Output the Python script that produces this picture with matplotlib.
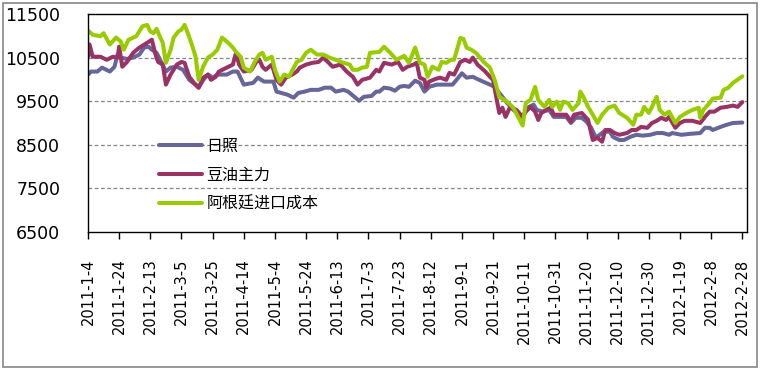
import numpy as np
import pandas as pd
import matplotlib
matplotlib.use('Agg')
import matplotlib.pyplot as plt
import matplotlib.dates as mdates
from matplotlib.patches import Rectangle

plt.rcParams['font.family'] = ['DejaVu Sans', 'Noto Sans CJK SC']

# 日照
rz_dates = ['2011-01-04', '2011-01-06', '2011-01-10', '2011-01-13', '2011-01-18', '2011-01-21',
            '2011-01-23', '2011-01-25', '2011-01-29', '2011-02-02', '2011-02-06', '2011-02-09',
            '2011-02-12', '2011-02-14', '2011-02-17', '2011-02-20', '2011-02-23', '2011-02-26',
            '2011-03-02', '2011-03-06', '2011-03-10', '2011-03-14', '2011-03-16', '2011-03-19',
            '2011-03-22', '2011-03-25', '2011-03-28', '2011-04-03', '2011-04-07', '2011-04-10',
            '2011-04-14', '2011-04-20', '2011-04-23', '2011-04-27', '2011-05-03', '2011-05-05',
            '2011-05-08', '2011-05-12', '2011-05-16', '2011-05-19', '2011-05-23', '2011-05-27',
            '2011-06-01', '2011-06-05', '2011-06-09', '2011-06-12', '2011-06-17', '2011-06-20',
            '2011-06-24', '2011-06-27', '2011-06-30', '2011-07-05', '2011-07-08', '2011-07-10',
            '2011-07-13', '2011-07-17', '2011-07-20', '2011-07-23', '2011-07-26', '2011-07-29',
            '2011-08-02', '2011-08-05', '2011-08-08', '2011-08-11', '2011-08-16', '2011-08-22',
            '2011-08-26', '2011-09-01', '2011-09-04', '2011-09-08', '2011-09-12', '2011-09-19',
            '2011-09-22', '2011-09-25', '2011-09-27', '2011-09-30', '2011-10-04', '2011-10-10',
            '2011-10-13', '2011-10-17', '2011-10-19', '2011-10-23', '2011-10-27', '2011-10-30',
            '2011-11-04', '2011-11-07', '2011-11-10', '2011-11-13', '2011-11-17', '2011-11-20',
            '2011-11-23', '2011-11-26', '2011-12-01', '2011-12-05', '2011-12-07', '2011-12-11',
            '2011-12-14', '2011-12-18', '2011-12-22', '2011-12-26', '2011-12-31', '2012-01-04',
            '2012-01-08', '2012-01-12', '2012-01-14', '2012-01-20', '2012-01-25', '2012-02-01',
            '2012-02-04', '2012-02-07', '2012-02-09', '2012-02-14', '2012-02-18', '2012-02-22',
            '2012-02-28']
rz_vals = [10110, 10180, 10180, 10270, 10180, 10290,
           10570, 10500, 10470, 10500, 10570, 10730,
           10750, 10680, 10610, 10400, 10180, 10270,
           10290, 10220, 9990, 9880, 9810, 9990,
           10110, 10040, 10110, 10110, 10180, 10180,
           9880, 9920, 10040, 9950, 9950, 9720,
           9690, 9650, 9580, 9690, 9720, 9760,
           9760, 9810, 9810, 9720, 9760, 9720,
           9600, 9510, 9600, 9620, 9720, 9720,
           9810, 9790, 9740, 9830, 9850, 9830,
           9970, 9920, 9720, 9830, 9880, 9880,
           9880, 10140, 10040, 10060, 9990, 9880,
           9830, 9690, 9600, 9460, 9300, 9140,
           9350, 9420, 9300, 9260, 9300, 9140,
           9140, 9140, 9000, 9120, 9120, 9030,
           8890, 8660, 8800, 8800, 8680, 8610,
           8610, 8680, 8730, 8710, 8730, 8770,
           8770, 8730, 8770, 8730, 8750, 8770,
           8890, 8890, 8840, 8910, 8960, 9000,
           9010]

# 豆油主力
dy_dates = ['2011-01-04', '2011-01-05', '2011-01-07', '2011-01-12', '2011-01-16', '2011-01-20',
            '2011-01-23', '2011-01-24', '2011-01-26', '2011-01-29', '2011-02-02', '2011-02-06',
            '2011-02-11', '2011-02-14', '2011-02-16', '2011-02-18', '2011-02-21', '2011-02-23',
            '2011-02-26', '2011-03-02', '2011-03-05', '2011-03-07', '2011-03-10', '2011-03-13',
            '2011-03-16', '2011-03-19', '2011-03-22', '2011-03-24', '2011-03-27', '2011-03-29',
            '2011-04-03', '2011-04-07', '2011-04-09', '2011-04-11', '2011-04-14', '2011-04-19',
            '2011-04-22', '2011-04-24', '2011-04-26', '2011-04-28', '2011-05-02', '2011-05-05',
            '2011-05-08', '2011-05-11', '2011-05-15', '2011-05-18', '2011-05-20', '2011-05-24',
            '2011-05-28', '2011-06-01', '2011-06-04', '2011-06-07', '2011-06-10', '2011-06-15',
            '2011-06-19', '2011-06-23', '2011-06-26', '2011-06-29', '2011-07-04', '2011-07-08',
            '2011-07-10', '2011-07-13', '2011-07-18', '2011-07-22', '2011-07-25', '2011-07-28',
            '2011-08-01', '2011-08-03', '2011-08-05', '2011-08-08', '2011-08-09', '2011-08-11',
            '2011-08-15', '2011-08-18', '2011-08-22', '2011-08-24', '2011-08-27', '2011-08-31',
            '2011-09-03', '2011-09-06', '2011-09-08', '2011-09-11', '2011-09-16', '2011-09-19',
            '2011-09-21', '2011-09-23', '2011-09-25', '2011-09-27', '2011-09-29', '2011-10-02',
            '2011-10-06', '2011-10-10', '2011-10-12', '2011-10-15', '2011-10-18', '2011-10-20',
            '2011-10-22', '2011-10-25', '2011-10-28', '2011-10-30', '2011-11-04', '2011-11-07',
            '2011-11-10', '2011-11-12', '2011-11-17', '2011-11-21', '2011-11-24', '2011-11-27',
            '2011-11-30', '2011-12-02', '2011-12-05', '2011-12-08', '2011-12-11', '2011-12-16',
            '2011-12-19', '2011-12-22', '2011-12-25', '2011-12-29', '2012-01-01', '2012-01-04',
            '2012-01-07', '2012-01-10', '2012-01-12', '2012-01-16', '2012-01-19', '2012-01-22',
            '2012-01-27', '2012-02-01', '2012-02-04', '2012-02-07', '2012-02-10', '2012-02-14',
            '2012-02-18', '2012-02-22', '2012-02-25', '2012-02-28']
dy_vals = [10520, 10800, 10520, 10520, 10450, 10520,
           10500, 10750, 10290, 10400, 10610, 10730,
           10840, 10910, 10610, 10400, 10340, 9880,
           10110, 10340, 10400, 10380, 10060, 9920,
           9810, 10040, 10110, 9990, 10060, 10180,
           10270, 10340, 10610, 10340, 10180, 10220,
           10400, 10450, 10290, 10220, 10340, 9990,
           9880, 10040, 10110, 10180, 10270, 10340,
           10380, 10400, 10500, 10400, 10290, 10340,
           10180, 10060, 9880, 9990, 10040, 10220,
           10180, 10380, 10340, 10400, 10220, 10290,
           10340, 10380, 10040, 9990, 9810, 9950,
           10010, 10040, 9990, 10150, 10110, 10400,
           10450, 10400, 10500, 10340, 10180, 10060,
           9990, 9600, 9230, 9350, 9140, 9370,
           9300, 9140, 9260, 9370, 9260, 9070,
           9230, 9300, 9350, 9190, 9190, 9190,
           9030, 9190, 9230, 9070, 8610, 8660,
           8570, 8840, 8840, 8770, 8730, 8770,
           8840, 8840, 8910, 8890, 9000, 9050,
           9120, 9070, 9140, 8890, 9000, 9050,
           9050, 9000, 9140, 9260, 9260, 9350,
           9370, 9400, 9370, 9480]

# 阿根廷进口成本
ag_dates = ['2011-01-04', '2011-01-07', '2011-01-12', '2011-01-14', '2011-01-18', '2011-01-22',
            '2011-01-25', '2011-01-27', '2011-01-30', '2011-02-04', '2011-02-08', '2011-02-11',
            '2011-02-13', '2011-02-15', '2011-02-17', '2011-02-19', '2011-02-21', '2011-02-23',
            '2011-02-26', '2011-02-28', '2011-03-03', '2011-03-05', '2011-03-07', '2011-03-09',
            '2011-03-12', '2011-03-14', '2011-03-16', '2011-03-19', '2011-03-22', '2011-03-25',
            '2011-03-28', '2011-03-31', '2011-04-04', '2011-04-07', '2011-04-09', '2011-04-12',
            '2011-04-14', '2011-04-18', '2011-04-21', '2011-04-24', '2011-04-26', '2011-04-28',
            '2011-05-02', '2011-05-04', '2011-05-07', '2011-05-10', '2011-05-13', '2011-05-18',
            '2011-05-21', '2011-05-24', '2011-05-27', '2011-05-31', '2011-06-04', '2011-06-08',
            '2011-06-12', '2011-06-17', '2011-06-21', '2011-06-23', '2011-06-26', '2011-06-29',
            '2011-07-02', '2011-07-04', '2011-07-10', '2011-07-13', '2011-07-17', '2011-07-21',
            '2011-07-26', '2011-07-29', '2011-08-02', '2011-08-05', '2011-08-08', '2011-08-10',
            '2011-08-13', '2011-08-17', '2011-08-19', '2011-08-22', '2011-08-25', '2011-08-27',
            '2011-08-31', '2011-09-02', '2011-09-04', '2011-09-07', '2011-09-10', '2011-09-15',
            '2011-09-19', '2011-09-22', '2011-09-25', '2011-09-30', '2011-10-04', '2011-10-10',
            '2011-10-12', '2011-10-15', '2011-10-18', '2011-10-20', '2011-10-24', '2011-10-27',
            '2011-10-29', '2011-11-01', '2011-11-03', '2011-11-05', '2011-11-08', '2011-11-11',
            '2011-11-15', '2011-11-16', '2011-11-18', '2011-11-21', '2011-11-24', '2011-11-27',
            '2011-11-30', '2011-12-04', '2011-12-08', '2011-12-11', '2011-12-16', '2011-12-20',
            '2011-12-22', '2011-12-25', '2011-12-27', '2011-12-30', '2012-01-01', '2012-01-04',
            '2012-01-06', '2012-01-09', '2012-01-12', '2012-01-16', '2012-01-19', '2012-01-23',
            '2012-01-27', '2012-01-31', '2012-02-01', '2012-02-03', '2012-02-07', '2012-02-09',
            '2012-02-14', '2012-02-16', '2012-02-19', '2012-02-22', '2012-02-28']
ag_vals = [11120, 11025, 10990, 11060, 10800, 10960,
           10870, 10680, 10910, 10990, 11220, 11250,
           11100, 11060, 11160, 10990, 10840, 10380,
           10680, 10960, 11100, 11140, 11250, 11070,
           10760, 10530, 9990, 10300, 10500, 10570,
           10680, 10960, 10840, 10730, 10630, 10520,
           10270, 10180, 10400, 10570, 10610, 10450,
           10520, 10220, 9950, 10110, 10060, 10400,
           10450, 10610, 10680, 10570, 10570, 10500,
           10450, 10380, 10340, 10220, 10220, 10270,
           10290, 10610, 10630, 10750, 10610, 10450,
           10540, 10380, 10730, 10380, 10340, 10060,
           10290, 10220, 10400, 10380, 10450, 10450,
           10950, 10930, 10730, 10680, 10610, 10400,
           10270, 9990, 9600, 9490, 9350, 8940,
           9460, 9530, 9830, 9530, 9370, 9530,
           9370, 9490, 9300, 9490, 9460, 9300,
           9460, 9720, 9600, 9370, 9190, 9000,
           9190, 9350, 9400, 9230, 9120, 8960,
           9190, 9190, 9370, 9230, 9370, 9600,
           9300, 9190, 9260, 9000, 9140, 9230,
           9300, 9350, 9120, 9300, 9460, 9560,
           9580, 9760, 9810, 9920, 10070]

series_names = ['日照', '豆油主力', '阿根廷进口成本']
series_colors = ['#666699', '#993366', '#99CC00']

tick_start = pd.Timestamp('2011-01-04')
tick_end = pd.Timestamp('2012-02-28')

fig = plt.figure(figsize=(7.6, 3.7), dpi=100)
fig.patches.append(Rectangle((3 / 760, 3 / 370), 754 / 760, 364 / 370, transform=fig.transFigure,
                             fill=False, edgecolor='#868686', linewidth=1.2))
ax = fig.add_axes([88 / 760, 138 / 370, 659 / 760, 218 / 370])

for dates, vals, name, color in zip([rz_dates, dy_dates, ag_dates], [rz_vals, dy_vals, ag_vals],
                                    series_names, series_colors):
    ax.plot(pd.to_datetime(dates), vals, color=color, linewidth=2.9, label=name,
            solid_joinstyle='round', solid_capstyle='round')

ax.set_ylim(6500, 11500)
ax.set_yticks(np.arange(6500, 11501, 1000))
ax.set_xlim(tick_start, pd.Timestamp('2012-03-02'))
ticks = pd.date_range(tick_start, tick_end, freq='20D')
ax.set_xticks(ticks)
ax.set_xticklabels([f'{d.year}-{d.month}-{d.day}' for d in ticks], rotation=90, fontsize=10.5)

for v in [7500, 8500, 9500, 10500]:
    ax.axhline(v, color='#868686', linestyle=(0, (3, 2)), linewidth=0.9, zorder=0)

for s in ax.spines.values():
    s.set_color('black')
    s.set_linewidth(1.0)

ax.tick_params(axis='y', length=0, pad=20, labelsize=12.5)
ax.tick_params(axis='x', direction='out', length=5, width=1, pad=14)

leg = ax.legend(loc='upper left', bbox_to_anchor=(0.095, 0.47), frameon=False,
                prop={'family': ['Noto Sans CJK SC', 'DejaVu Sans'], 'size': 11.5},
                handlelength=2.7, handletextpad=0.3, labelspacing=0.75, borderpad=0)

fig.savefig('out.png', dpi=100)
